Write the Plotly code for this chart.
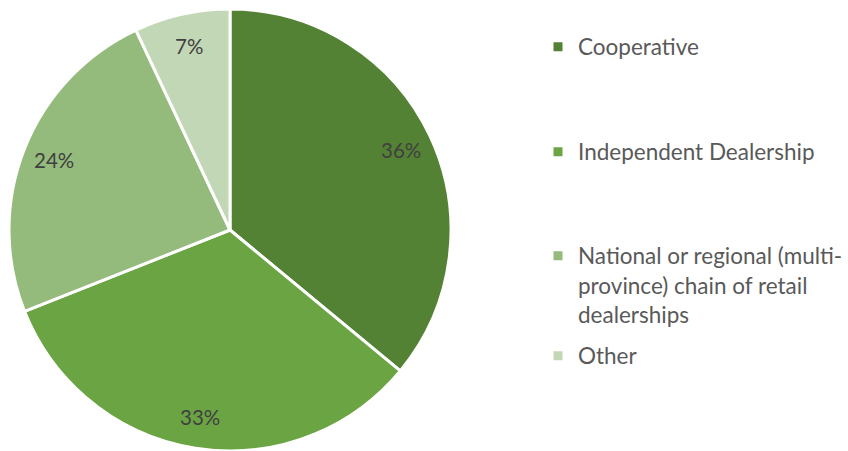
import math
import plotly.graph_objects as go

labels = ["Cooperative", "Independent Dealership",
          "National or regional (multi-province) chain of retail dealerships", "Other"]
legend_text = ["Cooperative", "Independent Dealership",
               "National or regional (multi-<br>province) chain of retail<br>dealerships", "Other"]
values = [36, 33, 24, 7]
colors = ["#548235", "#6aa443", "#94bb7c", "#c2d7b5"]
legend_y_px = [47, 152, 285, 356]

W, H = 848, 451
MT = 9
PH = H - MT
X0, X1 = 8, 452
fig = go.Figure()
fig.add_trace(go.Pie(
    labels=labels, values=values, sort=False, direction="clockwise", rotation=0,
    marker=dict(colors=colors, line=dict(color="white", width=3)),
    textinfo="none",
    domain=dict(x=[X0 / W, X1 / W], y=[0, 1]),
    showlegend=False, hoverinfo="label+percent",
))

# percentage labels placed at slice mid-angles
R = min(X1 - X0, PH) / 2
cx = (X0 + X1) / 2
cy = MT + PH / 2
total = sum(values)
cum = 0
for v in values:
    mid = (cum + v / 2) / total * 2 * math.pi
    cum += v
    r = 0.855 * R
    px = cx + r * math.sin(mid)
    py = cy - r * math.cos(mid)
    fig.add_annotation(
        x=px / W, y=(H - py) / PH, xref="paper", yref="paper",
        text=f"{round(v / total * 100)}%", showarrow=False,
        font=dict(family="Lato", size=20.5, color="#404040"),
        xanchor="center", yanchor="middle",
    )

layout_legends = {}
for i, (txt, col, ypx) in enumerate(zip(legend_text, colors, legend_y_px)):
    name = "legend" if i == 0 else f"legend{i+1}"
    fig.add_trace(go.Scatter(
        x=[None], y=[None], mode="markers", name=txt,
        marker=dict(symbol="square", size=9, color=col),
        legend=name, showlegend=True,
    ))
    layout_legends[name] = dict(
        x=538 / W, xanchor="left", y=(H - ypx) / PH, yanchor="middle",
        font=dict(family="Lato", size=22.5, color="#595959"),
        bgcolor="rgba(0,0,0,0)", itemwidth=30, borderwidth=0, valign="top",
    )

fig.update_layout(
    width=W, height=H, margin=dict(l=0, r=0, t=MT, b=0),
    paper_bgcolor="white", plot_bgcolor="white",
    xaxis=dict(visible=False), yaxis=dict(visible=False),
    **layout_legends,
)
fig.write_html("out.html", config={"displayModeBar": False},
               post_script="document.body.style.margin='0';")
